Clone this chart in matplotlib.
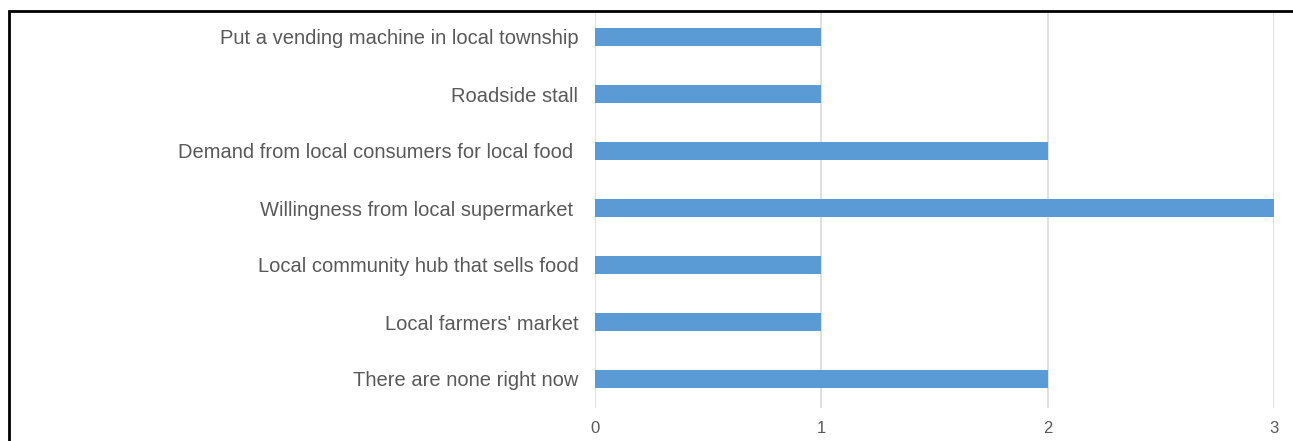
import matplotlib.pyplot as plt
from matplotlib.patches import Rectangle

plt.rcParams['font.family'] = ['Liberation Sans', 'DejaVu Sans']

# Categories listed bottom to top
labels = [
    "There are none right now",
    "Local farmers' market",
    "Local community hub that sells food",
    "Willingness from local supermarket ",
    "Demand from local consumers for local food ",
    "Roadside stall",
    "Put a vending machine in local township",
]
counts = [2, 1, 1, 3, 2, 1, 1]
xticks = [0, 1, 2, 3]

fig = plt.figure(figsize=(12.93, 4.41), dpi=100)
ax = fig.add_axes([595 / 1293, 33.5 / 441, (1274 - 595) / 1293, 399 / 441])

ypos = range(len(labels))
ax.barh(ypos, counts, height=0.32, color='#5b9bd5', zorder=3)

ax.set_xlim(0, 3)
ax.set_ylim(-0.5, len(labels) - 0.5)
ax.set_xticks(xticks)
ax.set_yticks(list(ypos))
ax.set_yticklabels(labels)
ax.grid(axis='x', color='#d9d9d9', linewidth=1.2, zorder=0)
ax.tick_params(axis='both', length=0, colors='#595959')
ax.tick_params(axis='y', pad=12, labelsize=14.5)
ax.tick_params(axis='x', pad=10, labelsize=12)
for s in ax.spines.values():
    s.set_visible(False)

# outer frame around the chart area, clipping the top of the gridlines
frame_top = 1 - 11 / 441
fig.patches.append(Rectangle((0, frame_top), 1, 1 - frame_top,
                             transform=fig.transFigure, facecolor='white',
                             edgecolor='none', zorder=5))
fig.patches.append(Rectangle((9 / 1293, -0.1), 1.2, frame_top + 0.1,
                             transform=fig.transFigure, fill=False,
                             edgecolor='black', linewidth=2, zorder=6))

fig.savefig('out.png', dpi=100)
